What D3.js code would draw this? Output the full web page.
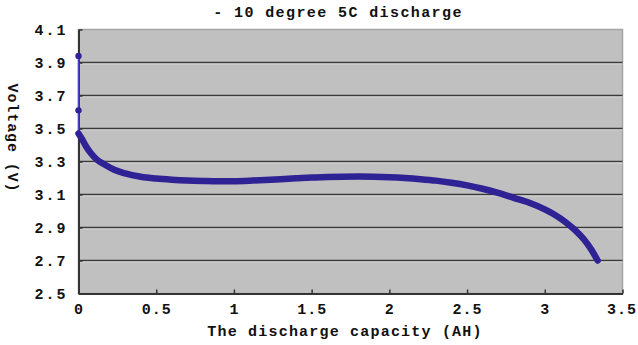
<!DOCTYPE html>
<html><head><meta charset="utf-8">
<script src="https://cdn.jsdelivr.net/npm/d3@7"></script>
<style>
html,body{margin:0;padding:0;background:#fff;}
svg{display:block;}
text{font-family:"Liberation Mono","DejaVu Sans Mono",monospace;font-weight:bold;fill:#111;}
</style></head>
<body>
<svg id="c" width="638" height="345"></svg>
<script>
const titleText = "- 10 degree 5C discharge";
const xTitle = "The discharge capacity (AH)";
const yTitle = "Voltage (V)";
const xTicks = [0, 0.5, 1, 1.5, 2, 2.5, 3, 3.5];
const yTicks = [2.5, 2.7, 2.9, 3.1, 3.3, 3.5, 3.7, 3.9, 4.1];
const capacity = [0, 0, 0, 0.02, 0.05, 0.08, 0.12, 0.17, 0.23, 0.3, 0.4, 0.5, 0.6, 0.7, 0.8, 0.9, 1.0, 1.1, 1.2, 1.3, 1.4, 1.5, 1.6, 1.7, 1.8, 1.9, 2.0, 2.1, 2.2, 2.3, 2.4, 2.5, 2.6, 2.7, 2.8, 2.9, 3.0, 3.05, 3.1, 3.15, 3.2, 3.25, 3.3, 3.34];
const voltage = [3.94, 3.61, 3.47, 3.44, 3.39, 3.35, 3.31, 3.28, 3.25, 3.228, 3.208, 3.197, 3.19, 3.185, 3.182, 3.18, 3.181, 3.184, 3.188, 3.193, 3.198, 3.203, 3.206, 3.208, 3.209, 3.208, 3.205, 3.2, 3.193, 3.184, 3.171, 3.155, 3.135, 3.11, 3.08, 3.05, 3.01, 2.985, 2.955, 2.92, 2.88, 2.83, 2.765, 2.70];

const svg = d3.select("#c");
const L = 78.5, R = 622.5, T = 29.5, B = 293.5;
const x = d3.scaleLinear().domain([0, 3.5]).range([L, R]);
const y = d3.scaleLinear().domain([2.5, 4.1]).range([B, T]);

svg.append("rect").attr("x", L).attr("y", T).attr("width", R - L).attr("height", B - T)
  .attr("fill", "#c0c0c0").attr("stroke", "#a4a4a4").attr("stroke-width", 1.5);

// gridlines
const gridVals = yTicks.filter(v => v > 2.5 && v < 4.1);
svg.append("g").selectAll("line").data(gridVals).join("line")
  .attr("x1", L).attr("x2", R).attr("y1", d => y(d)).attr("y2", d => y(d))
  .attr("stroke", "#3a3a3a").attr("stroke-width", 1.6);
svg.append("g").selectAll("line").data(gridVals).join("line")
  .attr("x1", L).attr("x2", R).attr("y1", d => y(d) + 1.5).attr("y2", d => y(d) + 1.5)
  .attr("stroke", "#d4d4d4").attr("stroke-width", 1);

// axes
const xAxis = d3.axisBottom(x).tickValues(xTicks).tickSizeInner(-4).tickSizeOuter(0)
  .tickPadding(9).tickFormat(d => d3.format("")(d));
const gx = svg.append("g").attr("transform", `translate(0,${B})`).call(xAxis);
gx.select(".domain").attr("stroke", "#333").attr("stroke-width", 2);
gx.selectAll(".tick line").attr("stroke", "#333").attr("stroke-width", 1.5);
gx.selectAll("text").attr("font-size", 15).attr("letter-spacing", "1px").attr("fill", "#111")
  .attr("font-family", null).attr("dy", "0.75em");
gx.selectAll(".tick").filter(d => d === 3.5).select("text").attr("dx", "-1px");

const yAxis = d3.axisLeft(y).tickValues(yTicks).tickSizeInner(-4).tickSizeOuter(0)
  .tickPadding(11).tickFormat(d3.format(".1f"));
const gy = svg.append("g").attr("transform", `translate(${L},0)`).call(yAxis);
gy.select(".domain").attr("stroke", "#333").attr("stroke-width", 2);
gy.selectAll(".tick line").attr("stroke", "#333").attr("stroke-width", 1.5);
gy.selectAll("text").attr("font-size", 15).attr("letter-spacing", "2px").attr("fill", "#111")
  .attr("font-family", null);

// data
const pts = capacity.map((c, i) => [c, voltage[i]]);
const line = d3.line().x(d => x(d[0])).y(d => y(d[1])).curve(d3.curveMonotoneX);
svg.append("path").datum(pts.slice(0, 3)).attr("d", d3.line().x(d => x(d[0])).y(d => y(d[1])))
  .attr("fill", "none").attr("stroke", "#4a45c8").attr("stroke-width", 1.5);
svg.append("path").datum(pts.slice(2)).attr("d", line)
  .attr("fill", "none").attr("stroke", "#2e2294").attr("stroke-width", 6.5)
  .attr("stroke-linecap", "round").attr("stroke-linejoin", "round");
svg.append("g").selectAll("circle").data(pts.slice(0, 2)).join("circle")
  .attr("cx", d => x(d[0])).attr("cy", d => y(d[1])).attr("r", 3.2).attr("fill", "#2e2294");

// titles
svg.append("text").attr("x", 338).attr("y", 13).attr("text-anchor", "middle").attr("dominant-baseline", "middle")
  .attr("font-size", 15).attr("letter-spacing", "1.4px").text(titleText);
svg.append("text").attr("x", 345).attr("y", 332).attr("text-anchor", "middle").attr("dominant-baseline", "middle")
  .attr("font-size", 15).attr("letter-spacing", "1.2px").text(xTitle);
svg.append("text").attr("transform", "translate(12,138) rotate(90)").attr("text-anchor", "middle")
  .attr("dominant-baseline", "middle").attr("font-size", 15).attr("letter-spacing", "0.9px").text(yTitle);
</script>
</body></html>
